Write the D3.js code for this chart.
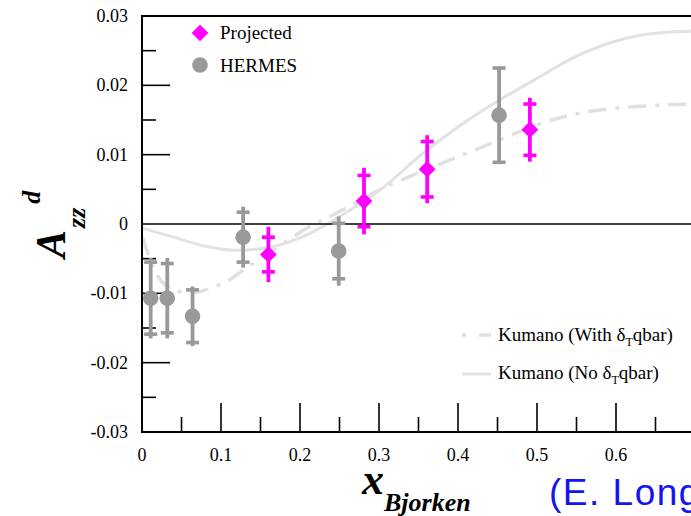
<!DOCTYPE html>
<html>
<head>
<meta charset="utf-8">
<script src="https://cdn.jsdelivr.net/npm/d3@7"></script>
<style>
  body { margin: 0; background: #fff; }
  svg { display: block; }
</style>
</head>
<body>
<div id="chart"></div>
<script>
// HERMES points: x, value, stat error (caps), total error (bar end)
const hermesX = [0.011, 0.032, 0.064, 0.128, 0.249, 0.452];
const hermesY = [-0.0107, -0.0107, -0.0133, -0.0019, -0.0039, 0.0157];
const hermesStat = [0.0052, 0.0050, 0.0038, 0.0036, 0.0040, 0.0068];
const hermesTot = [0.0058, 0.0058, 0.0043, 0.0044, 0.0050, 0.0068];

// Projected points
const projX = [0.160, 0.281, 0.361, 0.491];
const projY = [-0.0044, 0.0033, 0.0079, 0.0136];
const projStat = [0.0025, 0.0037, 0.0040, 0.0037];
const projTot = [0.0040, 0.0048, 0.0049, 0.0046];

// Kumano curves
const noQbarX = [0.0, 0.04, 0.08, 0.12, 0.16, 0.20, 0.23, 0.27, 0.30, 0.36, 0.40, 0.45, 0.50, 0.55, 0.60, 0.65, 0.70, 0.75];
const noQbarY = [-0.0006, -0.0019, -0.0032, -0.0038, -0.0034, -0.0020, -0.0003, 0.0025, 0.0048, 0.0106, 0.0140, 0.0177, 0.0210, 0.0242, 0.0264, 0.0275, 0.0278, 0.0278];

const withQbarX = [0.001, 0.01, 0.02, 0.03, 0.045, 0.06, 0.075, 0.09, 0.11, 0.13, 0.15, 0.18, 0.21, 0.24, 0.27, 0.30, 0.34, 0.37, 0.40, 0.45, 0.50, 0.55, 0.60, 0.65, 0.70, 0.75];
const withQbarY = [-0.0020, -0.0050, -0.0075, -0.0089, -0.0097, -0.0099, -0.0097, -0.0091, -0.0081, -0.0065, -0.0050, -0.0027, -0.0005, 0.0012, 0.0030, 0.0049, 0.0069, 0.0083, 0.0097, 0.0120, 0.0143, 0.0159, 0.0167, 0.0171, 0.0173, 0.0173];

const xMajor = [0, 0.1, 0.2, 0.3, 0.4, 0.5, 0.6];
const xMinor = [0.05, 0.15, 0.25, 0.35, 0.45, 0.55, 0.65];
const yMajor = [-0.03, -0.02, -0.01, 0, 0.01, 0.02, 0.03];
const yMinor = [-0.025, -0.015, -0.005, 0.005, 0.015, 0.025];

const width = 691;
const height = 516;
const margin = { top: 16, left: 142, bottom: 84 };
const serif = '"Liberation Serif", "Times New Roman", Times, serif';

const svg = d3.select('#chart')
  .append('svg')
  .attr('width', width)
  .attr('height', height);

const x = d3.scaleLinear().domain([0, 0.7]).range([margin.left, margin.left + 553]);
const y = d3.scaleLinear().domain([-0.03, 0.03]).range([height - margin.bottom, margin.top]);

// curves first (behind everything)
const line = d3.line().x(d => x(d[0])).y(d => y(d[1])).curve(d3.curveMonotoneX);

svg.append('path')
  .datum(noQbarX.map((v, i) => [v, noQbarY[i]]))
  .attr('d', line)
  .attr('fill', 'none')
  .attr('stroke', '#e2e2e2')
  .attr('stroke-width', 3);

svg.append('path')
  .datum(withQbarX.map((v, i) => [v, withQbarY[i]]))
  .attr('d', line)
  .attr('fill', 'none')
  .attr('stroke', '#e0e0e0')
  .attr('stroke-width', 3.5)
  .attr('stroke-dasharray', '18,9,4,9');

// frame: left axis, bottom axis, top border, zero line
const x0 = x(0), xEnd = width + 2;
svg.append('line').attr('x1', x0).attr('x2', xEnd).attr('y1', y(0.03)).attr('y2', y(0.03))
  .attr('stroke', '#000').attr('stroke-width', 2);
svg.append('line').attr('x1', x0).attr('x2', xEnd).attr('y1', y(-0.03)).attr('y2', y(-0.03))
  .attr('stroke', '#000').attr('stroke-width', 2);
svg.append('line').attr('x1', x0).attr('x2', x0).attr('y1', y(0.03) - 1).attr('y2', y(-0.03) + 1)
  .attr('stroke', '#000').attr('stroke-width', 2);
svg.append('line').attr('x1', x0).attr('x2', xEnd).attr('y1', y(0)).attr('y2', y(0))
  .attr('stroke', '#000').attr('stroke-width', 1.6);

// y ticks (inward)
svg.selectAll('.ymaj').data(yMajor.filter(v => Math.abs(v) < 0.029 && v !== 0)).enter()
  .append('line')
  .attr('x1', x0).attr('x2', x0 + 28)
  .attr('y1', d => y(d)).attr('y2', d => y(d))
  .attr('stroke', '#000').attr('stroke-width', 1.6);
svg.selectAll('.ymin').data(yMinor).enter()
  .append('line')
  .attr('x1', x0).attr('x2', x0 + 14)
  .attr('y1', d => y(d)).attr('y2', d => y(d))
  .attr('stroke', '#000').attr('stroke-width', 1.6);

svg.selectAll('.ylab').data(yMajor).enter()
  .append('text')
  .attr('x', 128)
  .attr('y', d => y(d) + 6)
  .attr('text-anchor', 'end')
  .attr('font-family', serif)
  .attr('font-size', 18)
  .text(d => d === 0 ? '0' : d3.format('.2f')(d).replace('\u2212', '-'));

// x ticks (upward)
svg.selectAll('.xmaj').data(xMajor.filter(v => v > 0)).enter()
  .append('line')
  .attr('x1', d => x(d)).attr('x2', d => x(d))
  .attr('y1', y(-0.03)).attr('y2', y(-0.03) - 29)
  .attr('stroke', '#000').attr('stroke-width', 1.6);
svg.selectAll('.xmin').data(xMinor).enter()
  .append('line')
  .attr('x1', d => x(d)).attr('x2', d => x(d))
  .attr('y1', y(-0.03)).attr('y2', y(-0.03) - 15)
  .attr('stroke', '#000').attr('stroke-width', 1.6);

svg.selectAll('.xlab').data(xMajor).enter()
  .append('text')
  .attr('x', d => x(d))
  .attr('y', 461)
  .attr('text-anchor', 'middle')
  .attr('font-family', serif)
  .attr('font-size', 18)
  .text(d => d === 0 ? '0' : d3.format('.1f')(d));

// error bars with caps at stat error and bar to total error
function errorBars(xs, ys, stat, tot, color) {
  const g = svg.append('g').attr('stroke', color);
  xs.forEach((xv, i) => {
    const px = x(xv);
    g.append('line')
      .attr('x1', px).attr('x2', px)
      .attr('y1', y(ys[i] + tot[i])).attr('y2', y(ys[i] - tot[i]))
      .attr('stroke-width', 3.8);
    [ys[i] + stat[i], ys[i] - stat[i]].forEach(c => {
      g.append('line')
        .attr('x1', px - 6.5).attr('x2', px + 6.5)
        .attr('y1', y(c)).attr('y2', y(c))
        .attr('stroke-width', 3.6);
    });
  });
}

errorBars(hermesX, hermesY, hermesStat, hermesTot, '#999999');
svg.selectAll('.herm').data(hermesX).enter()
  .append('circle')
  .attr('cx', d => x(d))
  .attr('cy', (d, i) => y(hermesY[i]))
  .attr('r', 7.8)
  .attr('fill', '#999999');

errorBars(projX, projY, projStat, projTot, '#ff00ff');
const diamond = d3.symbol().type(d3.symbolSquare).size(140);
svg.selectAll('.proj').data(projX).enter()
  .append('path')
  .attr('d', diamond)
  .attr('transform', (d, i) => `translate(${x(d)},${y(projY[i])}) rotate(45)`)
  .attr('fill', '#ff00ff');

// top legend
svg.append('path').attr('d', diamond)
  .attr('transform', 'translate(200,33) rotate(45)')
  .attr('fill', '#ff00ff');
svg.append('text').attr('x', 220).attr('y', 39)
  .attr('font-family', serif).attr('font-size', 19).text('Projected');
svg.append('circle').attr('cx', 200).attr('cy', 65).attr('r', 7.8).attr('fill', '#999999');
svg.append('text').attr('x', 220).attr('y', 72)
  .attr('font-family', serif).attr('font-size', 19).text('HERMES');

// bottom legend
svg.append('line').attr('x1', 462).attr('x2', 491).attr('y1', 335).attr('y2', 335)
  .attr('stroke', '#e0e0e0').attr('stroke-width', 3.5).attr('stroke-dasharray', '4,13,12');
svg.append('line').attr('x1', 462).attr('x2', 491).attr('y1', 374).attr('y2', 374)
  .attr('stroke', '#e2e2e2').attr('stroke-width', 3);

function kumanoLabel(yPos, word) {
  const t = svg.append('text').attr('x', 498).attr('y', yPos)
    .attr('font-family', serif).attr('font-size', 19);
  t.append('tspan').text('Kumano (' + word + ' \u03B4');
  t.append('tspan').attr('font-size', 12).attr('dy', 5).text('T');
  t.append('tspan').attr('dy', -5).text('qbar)');
}
kumanoLabel(341, 'With');
kumanoLabel(379, 'No');

// y axis title
const yt = svg.append('text')
  .attr('transform', 'translate(65,258) rotate(-90)')
  .attr('font-family', serif)
  .attr('font-weight', 'bold')
  .attr('font-style', 'italic');
yt.append('tspan').attr('font-size', 42).text('A');
yt.append('tspan').attr('font-size', 26).attr('dy', 20).attr('dx', 2).text('zz');
yt.append('tspan').attr('font-size', 26).attr('dy', -45).attr('dx', 4).text('d');

// x axis title
const xt = svg.append('text')
  .attr('x', 362).attr('y', 494)
  .attr('font-family', serif)
  .attr('font-weight', 'bold')
  .attr('font-style', 'italic');
xt.append('tspan').attr('font-size', 44).text('x');
xt.append('tspan').attr('font-size', 26).attr('dy', 17).text('Bjorken');

// credit, cut off by the window edge
svg.append('text')
  .attr('x', 549).attr('y', 505)
  .attr('font-family', '"Liberation Sans", Arial, sans-serif')
  .attr('font-size', 37)
  .attr('letter-spacing', 1.5)
  .attr('fill', '#1414f0')
  .text('(E. Long)');
</script>
</body>
</html>
